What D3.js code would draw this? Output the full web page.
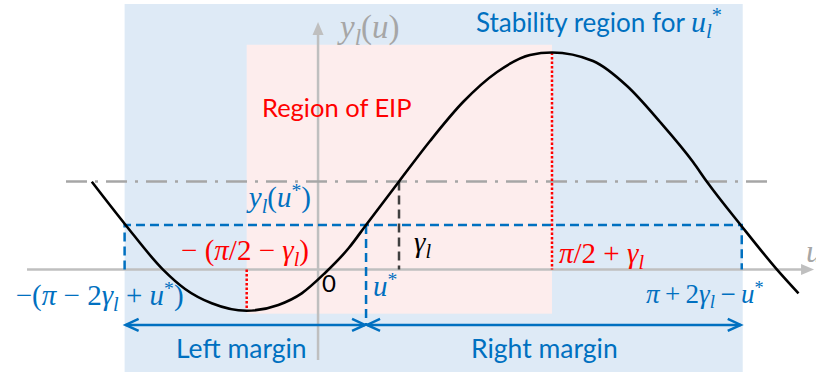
<!DOCTYPE html>
<html>
<head>
<meta charset="utf-8">
<script src="https://cdn.jsdelivr.net/npm/d3@7"></script>
<style>
  html, body { margin: 0; padding: 0; background: #fff; }
  svg { display: block; }
</style>
</head>
<body>
<svg id="fig" width="816" height="372"></svg>
<script>
// Sampled points of the curve y_l(u): phase u and value y_l
const curveU = [-2.328, -1.980, -1.595, -1.368, -1.094, -0.734, -0.408, -0.168, 0.072,
                 0.316,  0.494,  0.833,  1.152,  1.492,  1.842,  2.181,  2.407, 2.829, 3.179,
                 3.519,  3.858,  3.999,  4.352,  4.722,  4.943];
const curveY = [ 0.681,  0.346,  0.000, -0.150, -0.261, -0.319, -0.274, -0.184, -0.026,
                 0.167,  0.346,  0.683,  0.997,  1.299,  1.532,  1.664,  1.683, 1.617, 1.423,
                 1.144,  0.834,  0.683,  0.342,  0.000, -0.184];

// Characteristic phases: -(pi-2g+u*), -(pi/2-g), u*, g, pi/2+g, pi+2g-u*
const keyNames = ["left", "min", "uStar", "gamma", "max", "right"];
const keyU     = [-1.990, -0.734, 0.494, 0.833, 2.407, 4.359];

// Characteristic levels: minimum, y_l(u*), sin-level at gamma, maximum
const levelNames = ["min", "yStar", "yGamma", "max"];
const levelY     = [-0.319, 0.346, 0.683, 1.683];

// Shaded regions [u0, u1, y0, y1]
const stabilityRegion = [-1.990, 4.369, -0.80, 2.059];
const eipRegion       = [-0.734, 2.407, -0.342, 1.743];

// Extents of the axes and guides
const uAxisExtent    = [-2.994, 5.103];
const yAxisExtent    = [-0.701, 1.919];
const guideExtent    = [-2.593, 4.640];
const marginArrowY   = -0.429;

const K  = Object.fromEntries(keyNames.map((n, i) => [n, keyU[i]]));
const LV = Object.fromEntries(levelNames.map((n, i) => [n, levelY[i]]));

const W = 816, H = 372;
const svg = d3.select("#fig");

const x = d3.scaleLinear().domain([-3.272, 5.123]).range([0, W]);
const y = d3.scaleLinear().domain([-0.794, 2.090]).range([H, 0]);

const BLUE = "#0070C0", RED = "#FF0000", GRAY = "#BFBFBF", DGRAY = "#A6A6A6";
const SANS = "Lato, 'Open Sans', sans-serif";
const SERIF = "'Liberation Serif', 'DejaVu Serif', serif";

// Regions
svg.append("rect")
  .attr("x", x(stabilityRegion[0])).attr("width", x(stabilityRegion[1]) - x(stabilityRegion[0]))
  .attr("y", y(stabilityRegion[3])).attr("height", y(stabilityRegion[2]) - y(stabilityRegion[3]))
  .attr("fill", "#DEEAF6");
svg.append("rect")
  .attr("x", x(eipRegion[0])).attr("width", x(eipRegion[1]) - x(eipRegion[0]))
  .attr("y", y(eipRegion[3])).attr("height", y(eipRegion[2]) - y(eipRegion[3]))
  .attr("fill", "#FDEDED");

// Axes with arrow heads
const axes = svg.append("g").attr("stroke", GRAY).attr("stroke-width", 2.5);
axes.append("line")
  .attr("x1", x(uAxisExtent[0])).attr("x2", x(uAxisExtent[1]) - 10)
  .attr("y1", y(0)).attr("y2", y(0));
axes.append("line")
  .attr("x1", x(0)).attr("x2", x(0))
  .attr("y1", y(yAxisExtent[0])).attr("y2", y(yAxisExtent[1]) + 10);
svg.append("path")
  .attr("d", `M${x(uAxisExtent[1])},${y(0)} l-13,-5.5 l0,11 z`).attr("fill", GRAY);
svg.append("path")
  .attr("d", `M${x(0)},${y(yAxisExtent[1])} l-5.5,13 l11,0 z`).attr("fill", GRAY);

// Dash-dot guide at the gamma level
svg.append("line")
  .attr("x1", x(guideExtent[0])).attr("x2", x(guideExtent[1]))
  .attr("y1", y(LV.yGamma)).attr("y2", y(LV.yGamma))
  .attr("stroke", DGRAY).attr("stroke-width", 2.5).attr("stroke-dasharray", "21 8 3 8");

// Blue dashed guides at y_l(u*)
const dashB = svg.append("g").attr("stroke", BLUE).attr("stroke-width", 2.5)
  .attr("stroke-dasharray", "9 5").attr("fill", "none");
dashB.append("path")
  .attr("d", `M${x(K.left)},${y(0)} V${y(LV.yStar)} H${x(K.right)} V${y(0)}`);
dashB.append("line")
  .attr("x1", x(K.uStar)).attr("x2", x(K.uStar))
  .attr("y1", y(LV.yStar)).attr("y2", y(marginArrowY));

// Black dashed guide at gamma
svg.append("line")
  .attr("x1", x(K.gamma)).attr("x2", x(K.gamma))
  .attr("y1", y(LV.yGamma)).attr("y2", y(0))
  .attr("stroke", "#404040").attr("stroke-width", 2.5).attr("stroke-dasharray", "9 5");

// Red dotted guides at the extrema
const dotR = svg.append("g").attr("stroke", RED).attr("stroke-width", 2.5).attr("stroke-dasharray", "2.5 2");
dotR.append("line").attr("x1", x(K.max)).attr("x2", x(K.max)).attr("y1", y(LV.max)).attr("y2", y(0));
dotR.append("line").attr("x1", x(K.min)).attr("x2", x(K.min)).attr("y1", y(0)).attr("y2", y(LV.min));

// Curve
const pts = curveU.map((u, i) => [u, curveY[i]]);
svg.append("path")
  .datum(pts)
  .attr("d", d3.line().x(d => x(d[0])).y(d => y(d[1])).curve(d3.curveMonotoneX))
  .attr("fill", "none").attr("stroke", "#000").attr("stroke-width", 2.6);

// Margin arrows
const arr = svg.append("g").attr("stroke", BLUE).attr("stroke-width", 2.5).attr("fill", "none");
const ay = y(marginArrowY);
function head(px, dir) {
  arr.append("path").attr("d", `M${px - dir * 13},${ay - 6} L${px},${ay} L${px - dir * 13},${ay + 6}`);
}
arr.append("line").attr("x1", x(K.left) + 1).attr("x2", x(K.uStar) - 1).attr("y1", ay).attr("y2", ay);
arr.append("line").attr("x1", x(K.uStar) + 1).attr("x2", x(K.right) - 1).attr("y1", ay).attr("y2", ay);
head(x(K.left) + 1, -1);
head(x(K.uStar) - 1, 1);
head(x(K.uStar) + 1, -1);
head(x(K.right) - 1, 1);

// Text helpers
function mathText(px, py, anchor, color, size, segs, family) {
  const t = svg.append("text").attr("x", px).attr("y", py)
    .attr("text-anchor", anchor).attr("fill", color)
    .attr("font-size", size).attr("font-family", family || SERIF);
  let shift = 0;
  segs.forEach(([s, st]) => {
    let target = 0, fs = null, italic = false, fam = null;
    if (st === "i") italic = true;
    if (st === "sub") { target = 0.2 * size; fs = 0.7 * size; italic = true; }
    if (st === "sup") { target = -0.33 * size; fs = 0.68 * size; }
    if (st === "sans") { fam = SANS; fs = 26; }
    const ts = t.append("tspan").text(s);
    if (target !== shift) { ts.attr("dy", target - shift); shift = target; }
    if (fs) ts.attr("font-size", fs);
    if (italic) ts.attr("font-style", "italic");
    if (fam) ts.attr("font-family", fam);
  });
  return t;
}
function sansText(px, py, anchor, color, size, s) {
  return svg.append("text").attr("x", px).attr("y", py).attr("text-anchor", anchor)
    .attr("fill", color).attr("font-size", size).attr("font-family", SANS).text(s);
}

// Labels
const MS = 29;
const TS = "\u2009";
mathText(x(0) + 22, 38, "start", DGRAY, 33, [["y", "i"], ["l", "sub"], ["(", "r"], ["u", "i"], [")", "r"]]);
mathText(x(uAxisExtent[1]) - 8, 262, "start", DGRAY, 32, [["u", "i"]]);
mathText(476, 32, "start", BLUE, 30,
  [["Stability region for ", "sans"], ["u", "i"], ["l", "sub"], ["*", "sup"]]);
sansText(262, 117, "start", RED, 25.5, "Region of EIP");
mathText(x(0) - 7, 207, "end", BLUE, MS, [["y", "i"], ["l", "sub"], ["(", "r"], ["u", "i"], ["*", "sup"], [")", "r"]]);
mathText(x(0) - 9, 260, "end", RED, MS,
  [["− (", "r"], ["π", "i"], ["/2 − ", "r"], ["γ", "i"], ["l", "sub"], [")", "r"]]);
mathText(x(K.gamma) + 15, 252, "start", "#000", MS, [["γ", "i"], ["l", "sub"]]);
mathText(x(K.max) + 7, 263, "start", RED, MS,
  [["π", "i"], ["/2 + ", "r"], ["γ", "i"], ["l", "sub"]]);
sansText(x(0) + 4, 292, "start", "#000", 24, "0");
mathText(x(K.uStar) + 7, 296, "start", BLUE, MS, [["u", "i"], ["*", "sup"]]);
mathText(x(K.left) + 59, 305, "end", BLUE, MS,
  [["−(", "r"], ["π", "i"], [" − 2", "r"], ["γ", "i"], ["l", "sub"], [" + ", "r"], ["u", "i"], ["*", "sup"], [")", "r"]]);
mathText(x(K.right) + 22, 303, "end", BLUE, 27,
  [["π", "i"], [TS + "+" + TS + "2", "r"], ["γ", "i"], ["l", "sub"], [TS + "−" + TS, "r"], ["u", "i"], ["*", "sup"]]);
sansText((x(K.left) + x(K.uStar)) / 2 - 4, 358, "middle", BLUE, 26.5, "Left margin");
sansText((x(K.uStar) + x(K.right)) / 2 - 9.5, 358, "middle", BLUE, 26.5, "Right margin");
</script>
</body>
</html>
